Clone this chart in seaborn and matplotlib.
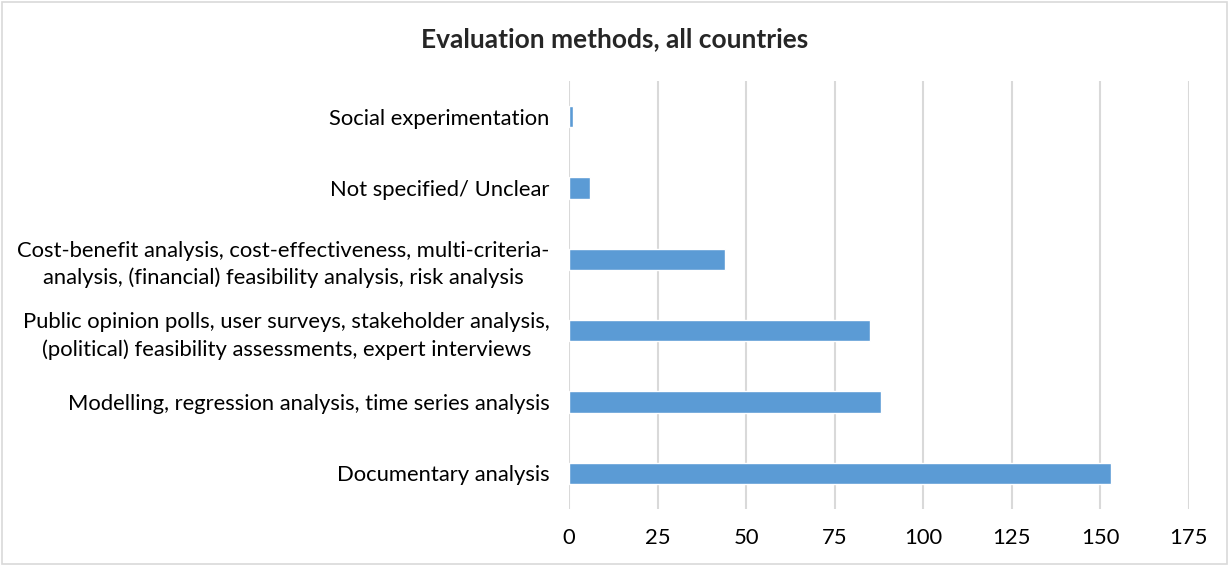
import matplotlib
matplotlib.use("Agg")
import matplotlib.pyplot as plt
import seaborn as sns
import pandas as pd
from matplotlib.patches import Rectangle

methods = [
    "Social experimentation",
    "Not specified/ Unclear",
    "Cost-benefit analysis, cost-effectiveness, multi-criteria-\nanalysis, (financial) feasibility analysis, risk analysis",
    "Public opinion polls, user surveys, stakeholder analysis,\n(political) feasibility assessments, expert interviews",
    "Modelling, regression analysis, time series analysis",
    "Documentary analysis",
]
counts = [1, 6, 44, 85, 88, 153]
x_ticks = [0, 25, 50, 75, 100, 125, 150, 175]

df = pd.DataFrame({"method": methods, "count": counts})

sns.set_style("white")
plt.rcParams["font.family"] = ["Lato", "DejaVu Sans"]

fig = plt.figure(figsize=(12.29, 5.66), dpi=100)
ax = fig.add_axes([0.463, 0.1007, 0.5041, 0.7562])

sns.barplot(data=df, x="count", y="method", orient="h", color="#5B9BD5",
            width=0.3, saturation=1, ax=ax)

ax.set_xlim(0, 175)
ax.set_xticks(x_ticks)
ax.grid(axis="x", color="#D9D9D9", linewidth=1.5)
ax.set_axisbelow(True)
for s in ax.spines.values():
    s.set_visible(False)
ax.tick_params(axis="both", length=0, labelsize=15.8, colors="#000000")
ax.tick_params(axis="x", pad=14)
ax.tick_params(axis="y", pad=14)
for lab in ax.get_yticklabels():
    lab.set_multialignment("center")
    lab.set_linespacing(1.4)
ax.set_xlabel("")
ax.set_ylabel("")

fig.suptitle("Evaluation methods, all countries", y=0.952, fontsize=19,
             fontweight="bold")
fig.patches.append(Rectangle((0.002, 0.003), 0.996, 0.994, transform=fig.transFigure,
                             fill=False, edgecolor="#D9D9D9", linewidth=1.2))

fig.savefig("out.png", dpi=100)
